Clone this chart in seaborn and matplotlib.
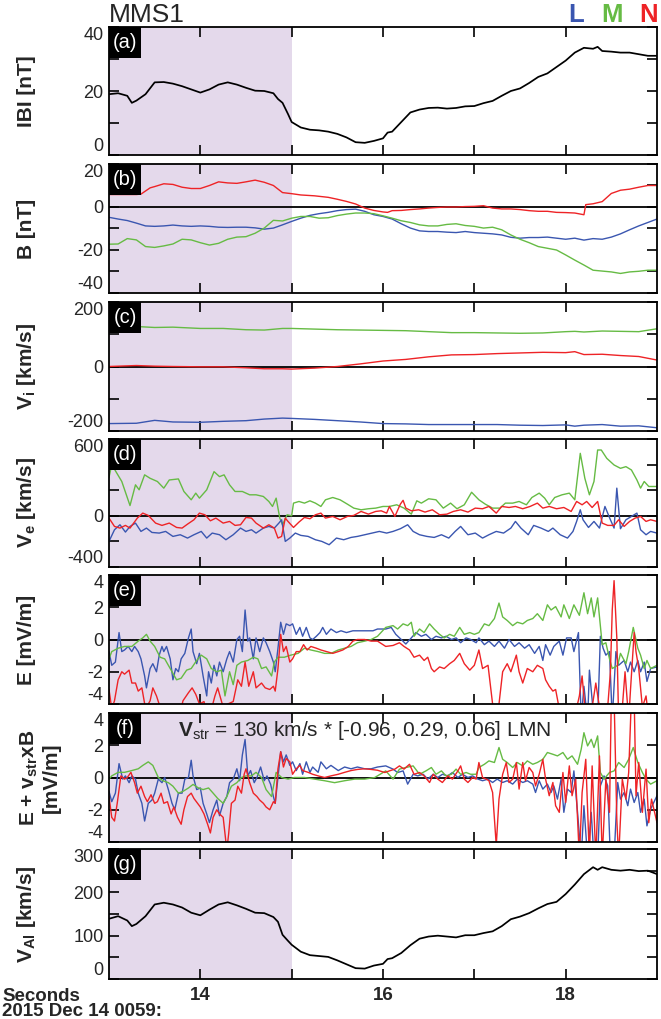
import matplotlib
matplotlib.use("Agg")
import matplotlib.pyplot as plt
import seaborn as sns
from matplotlib.patches import Rectangle

sns.set_style("ticks")
plt.rcParams['font.family'] = ['Liberation Sans', 'DejaVu Sans']
plt.rcParams['mathtext.fontset'] = 'custom'
plt.rcParams['mathtext.rm'] = 'Liberation Sans'
plt.rcParams['mathtext.bf'] = 'Liberation Sans:bold'
plt.rcParams['mathtext.it'] = 'Liberation Sans:italic'

BLUE, GREEN, RED = '#3a56b0', '#66bb44', '#ee2326'
SHADE = '#e4d9eb'

# ---------------- data ----------------
BT_T = [13.0,13.1,13.2,13.25,13.3,13.4,13.5,13.6,13.7,13.8,13.9,14.0,14.1,14.2,14.3,14.4,14.5,14.6,14.7,14.8,
        14.85,14.9,14.96,15.0,15.1,15.2,15.3,15.4,15.5,15.6,15.7,15.8,15.9,16.0,16.05,16.1,16.2,16.3,16.4,16.5,
        16.6,16.7,16.8,16.9,17.0,17.1,17.2,17.3,17.4,17.5,17.6,17.7,17.8,17.9,18.0,18.1,18.2,18.3,18.35,18.4,
        18.5,18.6,18.7,18.8,18.9,19.0]
BT_V = [19.0,19.3,18.5,16.3,17.0,19.0,22.7,22.8,22.3,21.5,20.5,19.5,20.5,22.0,22.7,22.0,21.0,20.1,20.0,19.3,
        17.5,16.3,12.8,10.3,8.6,7.9,7.7,7.3,6.6,5.5,4.0,3.8,4.4,5.2,7.0,7.3,10.3,13.3,14.2,14.7,
        14.8,14.5,14.7,15.2,15.3,16.2,16.9,18.5,20.0,20.8,22.5,24.4,25.5,27.5,29.5,32.0,33.5,33.2,33.8,32.5,
        32.3,32.0,32.0,31.5,31.0,31.0]
VA_V = [139,145,135,122,127,145,172,176,172,165,153,147,160,172,177,170,162,153,152,143,
        132,102,88,79,63,55,53,51,43,34,25,24,31,35,46,48,60,78,93,98,
        100,98,96,101,101,106,110,122,138,144,152,163,173,178,196,218,242,258,252,258,
        252,250,252,249,250,242]

B_T = [13.0+0.1*i for i in range(61)]
B_L = [-4.8,-5.6,-6.3,-7.5,-8.8,-9.0,-8.8,-8.4,-8.8,-9.0,-8.8,-9.0,-9.4,-9.5,-9.4,-9.4,-9.7,-10.3,-9.8,-8.3,
       -6.7,-5.2,-3.9,-3.1,-2.5,-1.7,-1.2,-1.0,-2.0,-3.6,-4.4,-5.6,-7.8,-9.8,-11.1,-11.4,-11.4,-11.7,-11.9,-11.4,
       -11.9,-12.2,-12.5,-13.0,-14.1,-14.5,-14.2,-14.2,-14.0,-14.5,-15.0,-14.5,-15.4,-14.7,-15.0,-14.0,-12.5,-10.6,-8.8,-7.2,
       -5.6]
B_M = [-17.3,-17.2,-14.7,-15.3,-18.4,-18.8,-18.1,-17.2,-15.0,-15.3,-16.6,-17.7,-16.9,-15.0,-14.0,-13.8,-12.2,-9.8,-6.2,-6.5,
       -5.2,-4.4,-4.4,-5.2,-5.0,-4.0,-3.3,-2.8,-2.8,-3.1,-4.1,-5.2,-6.4,-7.2,-8.3,-8.8,-8.8,-8.1,-7.8,-8.6,
       -9.0,-9.8,-9.4,-10.6,-13.0,-15.0,-16.6,-18.4,-19.2,-20.0,-22.3,-24.7,-27.0,-29.4,-29.8,-30.2,-30.9,-30.2,-29.9,-29.4,
       -29.4]
BN_T = [13.0,13.3,13.35,13.45,13.5,13.6,13.7,13.8,13.9,14.0,14.1,14.2,14.3,14.4,14.5,14.6,14.7,14.8,14.9,15.0,
        15.1,15.25,15.4,15.5,15.6,15.7,15.8,15.9,16.0,16.05,16.1,16.2,16.3,16.4,16.5,16.6,16.7,16.8,16.9,17.0,
        17.1,17.2,17.3,17.4,17.5,17.6,17.7,17.8,17.9,18.0,18.1,18.2,18.22,18.3,18.4,18.5,18.6,18.7,18.8,18.9,19.0]
BN_V = [5.8,5.8,6.0,8.9,9.5,10.8,10.5,9.2,8.6,8.6,10.0,11.7,11.2,11.0,11.7,12.5,11.5,10.0,6.7,6.2,
        5.6,5.2,4.5,3.6,2.6,1.4,-0.5,-1.6,-2.3,-2.5,-1.7,-1.6,-1.2,-0.9,-0.5,-0.2,0.0,0.0,0.2,0.3,
        0.6,-0.5,-0.9,-0.9,-1.2,-1.7,-2.0,-2.0,-2.5,-2.6,-2.8,-3.6,1.1,1.5,2.5,6.3,7.8,8.3,9.2,10.0,10.0]

VI_T = [13.0,13.3,13.5,13.7,14.0,14.25,14.5,14.7,14.9,15.0,15.25,15.5,15.75,16.0,16.25,16.5,16.75,17.0,17.25,17.5,
        17.75,18.0,18.1,18.2,18.4,18.6,18.8,19.0]
VI_L = [-177,-176,-167,-172,-173,-170,-168,-163,-160,-161,-164,-168,-172,-177,-178,-180,-180,-180,-180,-182,
        -183,-181,-185,-182,-180,-185,-184,-190]
VI_M = [127,124,121,122,118,118,114,113,118,118,116,114,113,112,111,108,105,105,104,103,
        104,108,109,107,110,109,108,117]
VI_N = [0,3,1,0,-1,-1,-4,-7,-7,-8,-5,0,8,17,22,30,36,37,40,42,
        44,43,46,37,38,34,31,20]

VE_L = [(13.00,-200),(13.06,-109),(13.12,-70),(13.18,-127),(13.23,-83),(13.29,-57),(13.35,-122),(13.41,-96),
        (13.47,-130),(13.55,-135),(13.62,-122),(13.70,-161),(13.78,-148),(13.86,-174),(13.93,-148),(14.01,-122),
        (14.07,-174),(14.13,-135),(14.21,-148),(14.28,-187),(14.36,-148),(14.44,-96),(14.50,-122),(14.56,-109),
        (14.61,-135),(14.69,-96),(14.75,-83),(14.81,-96),(14.86,-57),(14.89,-31),(14.93,-200),(14.98,-174),
        (15.04,-135),(15.10,-153),(15.18,-161),(15.26,-187),(15.33,-200),(15.41,-226),(15.49,-174),(15.57,-187),
        (15.65,-169),(15.72,-161),(15.80,-148),(15.88,-135),(15.96,-122),(16.04,-135),(16.11,-122),(16.19,-101),
        (16.27,-70),(16.33,-122),(16.40,-148),(16.48,-161),(16.56,-169),(16.64,-148),(16.72,-174),(16.79,-122),
        (16.85,-83),(16.93,-148),(17.01,-135),(17.09,-174),(17.16,-148),(17.24,-122),(17.32,-135),(17.40,-96),
        (17.45,-44),(17.51,-96),(17.59,-148),(17.65,-75),(17.73,-96),(17.81,-122),(17.86,-96),(17.94,-148),
        (18.02,-174),(18.08,-122),(18.12,-44),(18.16,47),(18.19,-31),(18.25,-91),(18.31,-44),(18.37,-96),
        (18.43,73),(18.49,-31),(18.53,-96),(18.56,216),(18.60,-101),(18.66,-31),(18.72,-5),(18.78,21),
        (18.82,-109),(18.88,-148),(18.93,-122),(19.00,-135)]
VE_M = [(13.00,300),(13.03,400),(13.08,340),(13.14,268),(13.23,80),(13.29,242),(13.33,203),(13.39,320),
        (13.45,293),(13.53,268),(13.60,216),(13.66,280),(13.76,288),(13.82,190),(13.90,125),(13.95,177),
        (13.99,138),(14.07,203),(14.15,345),(14.21,306),(14.26,320),(14.32,242),(14.38,190),(14.46,190),
        (14.50,177),(14.54,164),(14.61,164),(14.69,151),(14.75,112),(14.79,73),(14.83,138),(14.87,-18),
        (14.90,-70),(14.95,8),(15.00,0),(15.02,99),(15.08,112),(15.14,99),(15.20,117),(15.26,99),
        (15.32,73),(15.37,125),(15.45,143),(15.53,125),(15.61,91),(15.68,60),(15.76,47),(15.84,55),
        (15.92,60),(16.00,73),(16.07,73),(16.15,86),(16.23,60),(16.31,13),(16.37,117),(16.42,99),
        (16.50,133),(16.58,125),(16.66,60),(16.74,99),(16.81,55),(16.89,86),(16.97,184),(17.05,125),
        (17.12,91),(17.20,60),(17.28,60),(17.34,99),(17.42,99),(17.49,112),(17.57,86),(17.63,143),
        (17.71,177),(17.77,138),(17.82,86),(17.88,143),(17.96,164),(18.04,177),(18.10,125),(18.16,488),
        (18.21,293),(18.26,164),(18.31,268),(18.35,514),(18.39,514),(18.45,449),(18.53,397),(18.60,371),
        (18.66,384),(18.72,358),(18.78,280),(18.82,216),(18.86,268),(18.91,229),(19.00,229)]
VE_N = [(13.00,-18),(13.06,-83),(13.12,-96),(13.18,-75),(13.23,-96),(13.31,-18),(13.37,21),(13.43,3),
        (13.51,-57),(13.58,-75),(13.66,-57),(13.74,-91),(13.80,-96),(13.86,-65),(13.93,-31),(13.99,21),
        (14.05,8),(14.11,-39),(14.17,-18),(14.25,-57),(14.32,-44),(14.38,-75),(14.44,-70),(14.50,-13),
        (14.56,-18),(14.61,-57),(14.69,-96),(14.75,-70),(14.81,-96),(14.85,-174),(14.89,-161),(14.93,-18),
        (14.96,-44),(15.02,-91),(15.08,-49),(15.14,-13),(15.20,-23),(15.26,8),(15.32,21),(15.37,-18),
        (15.45,-5),(15.53,-31),(15.61,-5),(15.68,3),(15.76,34),(15.84,13),(15.92,34),(15.98,39),
        (16.04,21),(16.07,73),(16.13,-5),(16.19,91),(16.22,121),(16.25,60),(16.31,39),(16.39,47),(16.46,29),
        (16.54,47),(16.62,8),(16.70,13),(16.77,34),(16.85,47),(16.93,29),(17.01,60),(17.09,55),
        (17.16,73),(17.24,21),(17.30,73),(17.38,65),(17.45,73),(17.53,55),(17.61,73),(17.69,99),
        (17.75,60),(17.82,73),(17.90,55),(17.98,65),(18.06,34),(18.12,112),(18.18,86),(18.23,112),
        (18.29,65),(18.35,112),(18.40,-57),(18.46,-75),(18.53,-75),(18.58,-31),(18.64,-83),(18.70,-44),
        (18.76,-18),(18.82,-5),(18.88,-44),(18.93,-31),(19.00,-44)]

E_L = [(13.00,-0.75),(13.03,-1.6),(13.07,-1.4),(13.11,0.43),(13.14,-0.75),(13.17,-0.65),(13.21,-0.43),
       (13.25,-0.75),(13.28,-0.43),(13.32,-0.75),(13.35,-1.2),(13.39,-2.26),(13.41,-3.0),(13.45,-1.8),
       (13.48,-1.5),(13.52,-2.0),(13.55,-0.97),(13.58,-0.43),(13.60,-0.75),(13.63,-0.43),(13.67,-1.2),
       (13.70,-2.5),(13.73,-1.8),(13.76,-2.0),(13.79,-1.2),(13.83,-0.86),(13.87,0.1),(13.90,0.65),
       (13.92,-0.75),(13.96,-1.5),(13.99,-0.86),(14.03,-2.26),(14.07,-3.5),(14.09,-2.0),(14.12,-2.7),
       (14.15,-1.6),(14.18,-2.26),(14.21,-1.4),(14.25,-2.0),(14.29,-1.2),(14.32,-0.75),(14.36,-1.4),
       (14.40,0.0),(14.43,0.2),(14.46,-0.75),(14.49,1.83),(14.52,-0.1),(14.54,0.1),(14.58,-1.2),
       (14.61,0.1),(14.65,-0.75),(14.69,0.1),(14.72,-0.2),(14.76,-0.75),(14.80,-1.4),(14.82,-2.0),
       (14.85,-0.54),(14.88,1.07),(14.91,0.32),(14.94,0.97),(14.98,0.86),(15.01,0.97),(15.05,0.32),
       (15.09,0.75),(15.12,0.2),(15.16,0.75),(15.20,0.1),(15.23,0.0),(15.27,0.2),(15.31,0.43),
       (15.34,0.75),(15.38,0.32),(15.43,0.65),(15.49,0.43),(15.54,0.54),(15.60,0.43),(15.67,0.54),
       (15.74,0.54),(15.82,0.54),(15.89,0.54),(15.94,0.65),(16.03,0.65),(16.09,0.75),(16.14,0.32),
       (16.20,0.0),(16.25,-0.28),(16.31,0.1),(16.36,0.43),(16.42,0.2),(16.47,0.32),(16.53,0.0),
       (16.58,0.2),(16.64,0.1),(16.69,0.2),(16.75,0.0),(16.80,0.1),(16.85,-0.2),(16.91,0.1),
       (16.96,0.0),(17.02,-0.2),(17.05,0.1),(17.11,-0.32),(17.16,-0.1),(17.22,-0.43),(17.27,-0.1),
       (17.33,-0.54),(17.38,0.0),(17.44,-0.43),(17.49,-0.2),(17.55,-0.54),(17.60,-0.32),(17.66,-0.86),
       (17.71,-0.43),(17.75,-1.3),(17.78,-0.32),(17.83,-0.97),(17.87,-0.43),(17.93,-0.1),(17.97,-0.97),
       (18.01,0.1),(18.06,0.1),(18.09,-0.75),(18.14,0.43),(18.17,-5),(18.20,-2.9),(18.24,-5),
       (18.26,-1.9),(18.31,-5),(18.35,-5),(18.38,0.2),(18.41,-0.54),(18.44,-0.97),(18.48,-0.75),
       (18.51,-5),(18.55,-0.75),(18.58,-1.6),(18.64,-1.3),(18.68,-2.0),(18.71,-1.4),(18.75,-2.0),
       (18.79,-1.3),(18.82,-2.0),(18.86,-1.4),(18.89,-2.6),(18.93,-1.8),(19.00,-1.7)]
E_M = [(13.00,-1.2),(13.03,-0.75),(13.10,-0.54),(13.17,-0.43),(13.25,-0.43),(13.32,-0.1),(13.37,0.1),
       (13.41,0.32),(13.45,-0.1),(13.50,-0.43),(13.56,-1.1),(13.61,-1.2),(13.67,-1.8),(13.74,-2.5),
       (13.79,-2.4),(13.85,-1.9),(13.90,-1.8),(13.96,-1.3),(14.01,-0.97),(14.07,-1.2),(14.12,-1.8),
       (14.18,-2.0),(14.23,-1.9),(14.27,-3.5),(14.32,-2.0),(14.36,-2.8),(14.40,-1.6),(14.45,-1.4),
       (14.52,-1.3),(14.58,-1.1),(14.63,-1.2),(14.67,-1.8),(14.72,-1.7),(14.78,-2.26),(14.81,-1.4),
       (14.85,-1.1),(14.92,-1.1),(14.99,-0.97),(15.07,-0.86),(15.14,-0.54),(15.21,-0.65),(15.29,-0.75),
       (15.36,-0.86),(15.43,-0.86),(15.51,-0.65),(15.58,-0.54),(15.65,-0.43),(15.72,-0.2),(15.80,-0.1),
       (15.87,0.0),(15.94,0.2),(16.03,0.75),(16.11,0.86),(16.16,0.65),(16.22,0.97),(16.27,0.86),
       (16.31,1.07),(16.34,0.2),(16.40,0.65),(16.45,0.43),(16.51,0.97),(16.56,0.65),(16.62,0.32),
       (16.67,0.1),(16.73,0.32),(16.78,0.2),(16.84,0.75),(16.89,0.32),(16.95,0.43),(17.00,0.32),
       (17.05,0.43),(17.11,0.97),(17.16,0.86),(17.22,1.3),(17.27,2.26),(17.31,1.4),(17.36,1.18),
       (17.42,0.86),(17.47,1.07),(17.53,0.97),(17.58,1.18),(17.64,1.3),(17.69,1.6),(17.75,1.18),
       (17.80,2.15),(17.84,1.83),(17.89,2.04),(17.95,1.4),(17.98,2.15),(18.04,1.3),(18.09,2.15),
       (18.15,1.5),(18.20,2.9),(18.24,1.6),(18.28,2.58),(18.31,1.4),(18.35,2.58),(18.40,-0.32),
       (18.44,-0.2),(18.48,-1.2),(18.51,-1.8),(18.57,-1.6),(18.60,-0.86),(18.66,-1.5),(18.69,-0.75),
       (18.74,0.75),(18.79,-0.54),(18.82,-0.97),(18.86,-1.8),(18.89,-1.3),(18.93,-1.8),(19.00,-1.6)]
E_N = [(13.00,-3.1),(13.03,-4.3),(13.06,-3.8),(13.10,-2.5),(13.14,-2.0),(13.17,-2.15),(13.22,-1.9),
       (13.25,-2.7),(13.29,-2.7),(13.32,-3.2),(13.36,-3.0),(13.40,-4.3),(13.45,-3.8),(13.48,-3.0),
       (13.52,-3.5),(13.56,-4.2),(13.61,-5),(13.69,-5),(13.76,-5),(13.81,-3.8),(13.87,-3.3),
       (13.91,-3.0),(13.95,-3.4),(13.99,-4.0),(14.04,-3.85),(14.09,-5),(14.16,-3.5),(14.19,-3.0),
       (14.25,-4.2),(14.30,-4.0),(14.36,-3.85),(14.41,-2.5),(14.45,-2.9),(14.49,-1.4),(14.53,-2.9),
       (14.58,-2.0),(14.61,-3.0),(14.67,-2.7),(14.71,-3.0),(14.76,-3.1),(14.80,-2.9),(14.82,-3.2),
       (14.85,-1.8),(14.88,0.32),(14.91,-0.75),(14.94,-0.43),(14.98,-1.4),(15.01,-1.2),(15.05,-0.75),
       (15.09,-0.75),(15.13,-0.32),(15.17,-0.65),(15.21,-0.43),(15.27,-0.54),(15.32,-0.65),(15.38,-0.75),
       (15.45,-0.86),(15.51,-0.75),(15.56,-0.65),(15.62,-0.43),(15.67,-0.1),(15.72,0.0),(15.80,0.0),
       (15.87,-0.1),(15.94,-0.1),(16.03,-0.43),(16.11,-0.37),(16.18,-0.2),(16.23,-0.43),(16.29,-0.65),
       (16.34,-1.1),(16.40,-0.97),(16.45,-1.3),(16.49,-1.1),(16.53,-1.8),(16.56,-2.0),(16.62,-1.7),
       (16.67,-1.8),(16.73,-1.5),(16.78,-1.3),(16.84,-0.86),(16.89,-1.5),(16.95,-1.9),(17.00,-1.6),
       (17.05,-0.65),(17.09,-1.8),(17.15,-1.6),(17.20,-4.0),(17.25,-5),(17.31,-2.0),(17.36,-1.5),
       (17.40,-2.0),(17.46,-0.97),(17.49,-2.0),(17.53,-2.7),(17.58,-1.8),(17.64,-2.0),(17.69,-1.6),
       (17.75,-1.8),(17.78,-2.5),(17.82,-2.9),(17.86,-3.2),(17.89,-3.1),(17.93,-4.3),(17.98,-5),
       (18.04,-4.3),(18.09,-5),(18.15,-3.5),(18.18,-2.26),(18.21,-4.2),(18.25,-4.6),(18.29,-4.2),
       (18.33,-2.7),(18.37,-4.2),(18.41,-5),(18.46,-4.2),(18.49,-2.0),(18.51,1.83),(18.53,3.65),
       (18.56,0.1),(18.58,-5),(18.61,-5),(18.65,-2.0),(18.69,-5),(18.71,-3.1),(18.75,0.43),
       (18.77,-0.75),(18.80,-1.8),(18.84,-4.2),(18.88,-3.5),(18.91,-5),(18.94,-4.2),(19.00,-5)]

F_L = [(13.00,-0.86),(13.03,-1.5),(13.07,-0.97),(13.11,0.86),(13.15,-0.1),(13.18,0.1),(13.22,-0.32),
       (13.25,0.1),(13.29,-0.1),(13.32,-0.97),(13.36,-1.6),(13.39,-2.7),(13.43,-1.6),(13.47,-1.4),
       (13.50,-0.97),(13.54,-0.1),(13.58,-0.32),(13.61,0.0),(13.65,-0.75),(13.69,-1.6),(13.72,-2.0),
       (13.76,-0.97),(13.80,-0.97),(13.83,-0.1),(13.87,0.0),(13.90,1.07),(13.92,0.1),(13.96,-0.75),
       (14.00,-0.65),(14.03,-1.6),(14.07,-2.26),(14.10,-2.8),(14.14,-2.0),(14.18,-1.4),(14.21,-2.37),
       (14.25,-1.6),(14.29,-1.18),(14.32,-0.32),(14.36,-0.1),(14.40,0.54),(14.43,-0.2),(14.46,1.4),
       (14.49,2.36),(14.52,0.1),(14.55,0.43),(14.59,-0.32),(14.62,0.0),(14.66,0.65),(14.70,-0.2),
       (14.73,0.1),(14.77,-0.43),(14.80,-1.18),(14.82,-1.6),(14.85,0.0),(14.88,1.6),(14.91,0.97),
       (14.94,1.4),(14.98,0.75),(15.01,0.97),(15.05,0.43),(15.09,0.86),(15.12,0.2),(15.16,0.97),
       (15.20,0.32),(15.23,0.65),(15.29,0.32),(15.32,0.97),(15.38,0.54),(15.43,0.75),(15.51,0.43),
       (15.58,0.65),(15.65,0.54),(15.72,0.65),(15.80,0.54),(15.87,0.54),(15.94,0.65),(16.03,0.72),
       (16.11,0.52),(16.16,0.31),(16.22,0.41),(16.27,-0.41),(16.33,0.2),(16.38,0.1),(16.44,0.2),
       (16.49,-0.1),(16.55,0.2),(16.60,0.0),(16.65,0.2),(16.71,0.1),(16.76,0.31),(16.82,0.0),
       (16.87,0.2),(16.93,0.0),(16.98,0.1),(17.04,-0.1),(17.09,-0.2),(17.15,-0.1),(17.20,-0.31),
       (17.25,-0.1),(17.31,-0.31),(17.36,-0.2),(17.42,-0.41),(17.47,-0.1),(17.53,-0.31),(17.58,-0.2),
       (17.64,-0.41),(17.67,-0.93),(17.71,-0.2),(17.75,-0.72),(17.80,-0.41),(17.84,-0.93),(17.87,-0.52),
       (17.91,-1.34),(17.95,-0.1),(17.98,-2.16),(18.02,-0.72),(18.06,-0.93),(18.09,0.41),(18.13,-2.16),
       (18.17,-5),(18.20,-1.75),(18.24,-5),(18.28,-2.16),(18.31,-5),(18.35,-5),(18.38,-0.52),
       (18.42,0.1),(18.46,-0.52),(18.49,-5),(18.53,-5),(18.57,-0.31),(18.60,-1.34),(18.64,-0.93),
       (18.68,-1.75),(18.71,-0.72),(18.75,-1.55),(18.79,-0.93),(18.82,-2.16),(18.86,-1.34),(18.89,-3.0),
       (18.93,-1.96),(19.00,-1.13)]
F_M = [(13.00,-0.1),(13.03,0.1),(13.10,0.32),(13.17,0.32),(13.25,0.43),(13.32,0.54),(13.37,0.75),
       (13.43,0.97),(13.48,0.75),(13.54,0.0),(13.59,-0.2),(13.65,-0.32),(13.70,-0.54),(13.76,-0.97),
       (13.81,-0.86),(13.87,-0.65),(13.92,-0.43),(13.98,-0.65),(14.03,-0.75),(14.09,-0.65),(14.14,-0.97),
       (14.19,-1.3),(14.25,-1.6),(14.29,-1.18),(14.34,-0.54),(14.40,-0.32),(14.45,0.0),(14.50,0.1),
       (14.56,0.1),(14.61,0.32),(14.67,0.0),(14.72,-0.75),(14.78,-1.18),(14.83,0.32),(14.89,0.0),
       (14.96,-0.1),(15.03,0.0),(15.14,0.0),(15.25,-0.1),(15.36,-0.2),(15.47,-0.32),(15.58,-0.2),
       (15.69,-0.1),(15.80,-0.1),(15.91,0.0),(16.03,0.41),(16.11,-0.1),(16.18,0.52),(16.25,0.62),
       (16.33,0.72),(16.40,0.2),(16.47,0.41),(16.53,0.62),(16.58,0.2),(16.64,0.41),(16.69,0.1),
       (16.75,0.2),(16.80,0.52),(16.85,0.2),(16.91,0.31),(16.96,0.2),(17.02,0.2),(17.05,0.62),
       (17.11,0.82),(17.16,1.03),(17.22,0.93),(17.27,1.86),(17.31,1.13),(17.36,0.93),(17.42,0.62),
       (17.47,0.93),(17.53,0.72),(17.58,1.03),(17.64,0.82),(17.69,0.93),(17.75,1.13),(17.80,1.55),
       (17.86,1.44),(17.91,1.34),(17.97,1.55),(18.02,1.13),(18.07,1.34),(18.13,0.82),(18.17,1.75),
       (18.20,2.78),(18.24,1.96),(18.28,2.37),(18.31,1.86),(18.35,2.58),(18.38,0.31),(18.42,-0.1),
       (18.48,0.31),(18.53,0.41),(18.58,0.93),(18.64,0.62),(18.69,1.13),(18.74,1.86),(18.79,0.93),
       (18.84,0.31),(18.88,-0.1),(18.93,-0.41),(19.00,-0.2)]
F_N = [(13.00,-1.18),(13.03,-2.47),(13.06,-2.7),(13.09,-1.6),(13.13,0.1),(13.17,-0.1),(13.20,0.0),
       (13.24,0.32),(13.28,-0.32),(13.31,-0.97),(13.35,-0.54),(13.39,-1.18),(13.42,-1.5),(13.46,-1.07),
       (13.50,-1.6),(13.53,-1.5),(13.57,-0.97),(13.60,-1.6),(13.64,-1.5),(13.68,-2.26),(13.71,-1.83),
       (13.75,-2.47),(13.79,-2.9),(13.82,-2.0),(13.86,-1.18),(13.90,-0.97),(13.93,-1.3),(13.97,-1.6),
       (14.00,-1.83),(14.04,-2.26),(14.08,-2.9),(14.11,-3.44),(14.14,-2.47),(14.18,-2.0),(14.21,-2.26),
       (14.25,-2.47),(14.29,-4.5),(14.31,-3.5),(14.34,-1.6),(14.38,-1.4),(14.41,-0.54),(14.45,-0.97),
       (14.48,0.2),(14.50,0.54),(14.54,-0.32),(14.58,-0.97),(14.62,-1.18),(14.65,-1.4),(14.69,-1.6),
       (14.72,-1.83),(14.76,-2.0),(14.80,-1.5),(14.82,-1.6),(14.85,0.54),(14.88,1.6),(14.91,0.65),
       (14.94,1.18),(14.98,0.97),(15.01,0.2),(15.05,0.54),(15.09,0.75),(15.12,0.43),(15.18,0.32),
       (15.23,0.2),(15.29,0.1),(15.36,0.0),(15.43,0.1),(15.51,0.2),(15.58,0.32),(15.65,0.43),
       (15.72,0.5),(15.80,0.54),(15.87,0.5),(15.94,0.45),(16.02,0.31),(16.07,0.41),(16.13,0.52),
       (16.18,0.72),(16.23,0.52),(16.29,0.82),(16.34,0.2),(16.40,0.31),(16.45,0.1),(16.51,-0.31),
       (16.55,0.2),(16.60,-0.1),(16.65,-0.31),(16.71,0.1),(16.76,-0.1),(16.82,0.41),(16.85,0.72),
       (16.89,-0.1),(16.93,-0.31),(16.98,0.0),(17.02,-0.1),(17.05,0.93),(17.09,0.0),(17.13,-0.1),
       (17.16,-0.2),(17.20,-0.93),(17.24,-4.2),(17.27,-1.34),(17.31,0.2),(17.35,0.93),(17.38,-0.31),
       (17.42,-0.1),(17.46,0.93),(17.49,-0.72),(17.53,0.93),(17.56,-0.2),(17.60,0.62),(17.64,0.31),
       (17.67,-0.52),(17.71,0.2),(17.75,1.13),(17.78,-0.1),(17.82,-1.13),(17.86,-0.31),(17.89,-1.75),
       (17.93,-2.16),(17.97,0.31),(18.00,-1.55),(18.04,0.72),(18.07,-1.13),(18.11,-0.1),(18.15,-5),
       (18.18,-0.93),(18.22,1.13),(18.26,-5),(18.29,0.72),(18.33,-5),(18.37,1.34),(18.40,-5),
       (18.44,-0.1),(18.48,-2.16),(18.50,5),(18.53,5),(18.56,-2.6),(18.58,-5),(18.62,-0.1),
       (18.66,-1.34),(18.69,0.31),(18.72,5),(18.75,5),(18.77,-1.13),(18.80,0.93),(18.84,-2.16),
       (18.88,0.52),(18.91,-2.8),(18.94,-1.34),(19.00,-2.8)]

PANEL_LETTERS = ['(a)', '(b)', '(c)', '(d)', '(e)', '(f)', '(g)']
YLABELS = ['IBI [nT]', 'B [nT]', r'$\mathbf{V_i}$ [km/s]', r'$\mathbf{V_e}$ [km/s]', 'E [mV/m]',
           'E + v$_{\\mathbf{str}}$xB\n[mV/m]', r'$\mathbf{V_{Al}}$ [km/s]']
YLIMS = [(0, 40), (-40, 20), (-200, 200), (-400, 600), (-4, 4), (-4, 4), (0, 300)]
YTICKS = [[0, 10, 20, 30, 40], [-40, -30, -20, -10, 0, 10, 20], [-200, -100, 0, 100, 200],
          [-400, -200, 0, 200, 400, 600], [-4, -2, 0, 2, 4], [-4, -2, 0, 2, 4],
          [0, 50, 100, 150, 200, 250, 300]]
YTICKLABELS = [['0', '', '20', '', '40'], ['-40', '', '-20', '', '0', '', '20'], ['-200', '', '0', '', '200'],
               ['-400', '', '0', '', '', '600'], ['-4', '-2', '0', '2', '4'], ['-4', '-2', '0', '2', '4'],
               ['0', '', '100', '', '200', '', '300']]
XTICKS = [14, 15, 16, 17, 18]
XTICKLABELS = ['14', '', '16', '', '18']

# ---------------- figure ----------------
W, H = 661, 1019
fig = plt.figure(figsize=(W / 100, H / 100), dpi=100)
PANELS_PX = [(27, 155), (164, 293), (302, 431), (439, 567), (575, 704), (713, 842), (849, 979)]
LPX, RPX = 109, 657


def draw(ax, t, v, color, lw=1.0):
    sns.lineplot(x=list(t), y=list(v), ax=ax, color=color, linewidth=lw,
                 estimator=None, sort=False, legend=False, zorder=3)


def draw_pairs(ax, pairs, color, lw=1.0):
    t = [p[0] for p in pairs]
    v = [p[1] for p in pairs]
    draw(ax, t, v, color, lw)


axes = []
for i, (top, bot) in enumerate(PANELS_PX):
    ax = fig.add_axes([LPX / W, 1 - bot / H, (RPX - LPX) / W, (bot - top) / H])
    axes.append(ax)
    ax.axvspan(13, 15, color=SHADE, lw=0, zorder=0)
    if i in (1, 2, 3, 4, 5):
        ax.axhline(0, color='black', lw=1.3, zorder=2)

draw(axes[0], BT_T, BT_V, 'black', 1.25)
draw(axes[1], B_T, B_L, BLUE)
draw(axes[1], B_T, B_M, GREEN)
draw(axes[1], BN_T, BN_V, RED)
draw(axes[2], VI_T, VI_L, BLUE)
draw(axes[2], VI_T, VI_M, GREEN)
draw(axes[2], VI_T, VI_N, RED)
draw_pairs(axes[3], VE_M, GREEN)
draw_pairs(axes[3], VE_L, BLUE)
draw_pairs(axes[3], VE_N, RED)
draw_pairs(axes[4], E_L, BLUE)
draw_pairs(axes[4], E_M, GREEN)
draw_pairs(axes[4], E_N, RED)
draw_pairs(axes[5], F_L, BLUE)
draw_pairs(axes[5], F_M, GREEN)
draw_pairs(axes[5], F_N, RED)
draw(axes[6], BT_T, VA_V, 'black', 1.25)

for i, ax in enumerate(axes):
    ax.set_xlim(13, 19)
    ax.set_ylim(*YLIMS[i])
    ax.set_xlabel('')
    ax.set_ylabel('')
    ax.set_yticks(YTICKS[i])
    ax.set_yticklabels(YTICKLABELS[i])
    ax.set_xticks(XTICKS)
    if i == len(axes) - 1:
        ax.set_xticklabels(XTICKLABELS, fontweight='bold', fontsize=13.5)
    else:
        ax.set_xticklabels([])
    ax.tick_params(axis='both', direction='in', length=7, width=1.2, top=True, right=True,
                   labelsize=13, color='black')
    ax.tick_params(axis='x', pad=6, labelsize=13.5)
    ax.tick_params(axis='y', pad=4)
    for s in ax.spines.values():
        s.set_linewidth(1.3)
        s.set_color('black')
        s.set_zorder(6)
    labs = ax.get_yticklabels()
    labs[0].set_va('bottom')
    labs[-1].set_va('top')
    # panel letter box
    bw = 32 / (RPX - LPX)
    bh = 31 / (PANELS_PX[i][1] - PANELS_PX[i][0])
    ax.add_patch(Rectangle((0, 1 - bh), bw, bh, transform=ax.transAxes, facecolor='black',
                           edgecolor='none', zorder=7, clip_on=False))
    ax.text(bw / 2, 1 - bh / 2, PANEL_LETTERS[i], transform=ax.transAxes, color='white',
            fontsize=14.5, ha='center', va='center', zorder=8)
    # y label
    yc = 1 - (PANELS_PX[i][0] + PANELS_PX[i][1]) / 2 / H
    xc = 40 / W if i == 5 else 27 / W
    fig.text(xc, yc, YLABELS[i], rotation=90, ha='center', va='center', fontsize=15,
             fontweight='bold', multialignment='center', linespacing=1.1)

axes[5].text(178 / W, 1 - 730 / H, r'$\mathbf{V}_{\mathrm{str}}$ = 130 km/s * [-0.96, 0.29, 0.06] LMN',
             transform=fig.transFigure, fontsize=15, ha='left', va='center', zorder=9)

fig.text(LPX / W, 1 - 22 / H, 'MMS1', fontsize=19, ha='left', va='baseline')
for letter, xp, col in [('L', 568, BLUE), ('M', 601, GREEN), ('N', 639, RED)]:
    fig.text(xp / W, 1 - 22 / H, letter, fontsize=18.5, fontweight='bold', color=col,
             ha='left', va='baseline')

fig.text(2 / W, 1 - 1001 / H, 'Seconds', fontsize=13.5, fontweight='bold', ha='left', va='baseline')
fig.text(2 / W, 1 - 1016 / H, '2015 Dec 14 0059:', fontsize=13.5, fontweight='bold', ha='left',
         va='baseline')

fig.savefig('out.png', dpi=100)
